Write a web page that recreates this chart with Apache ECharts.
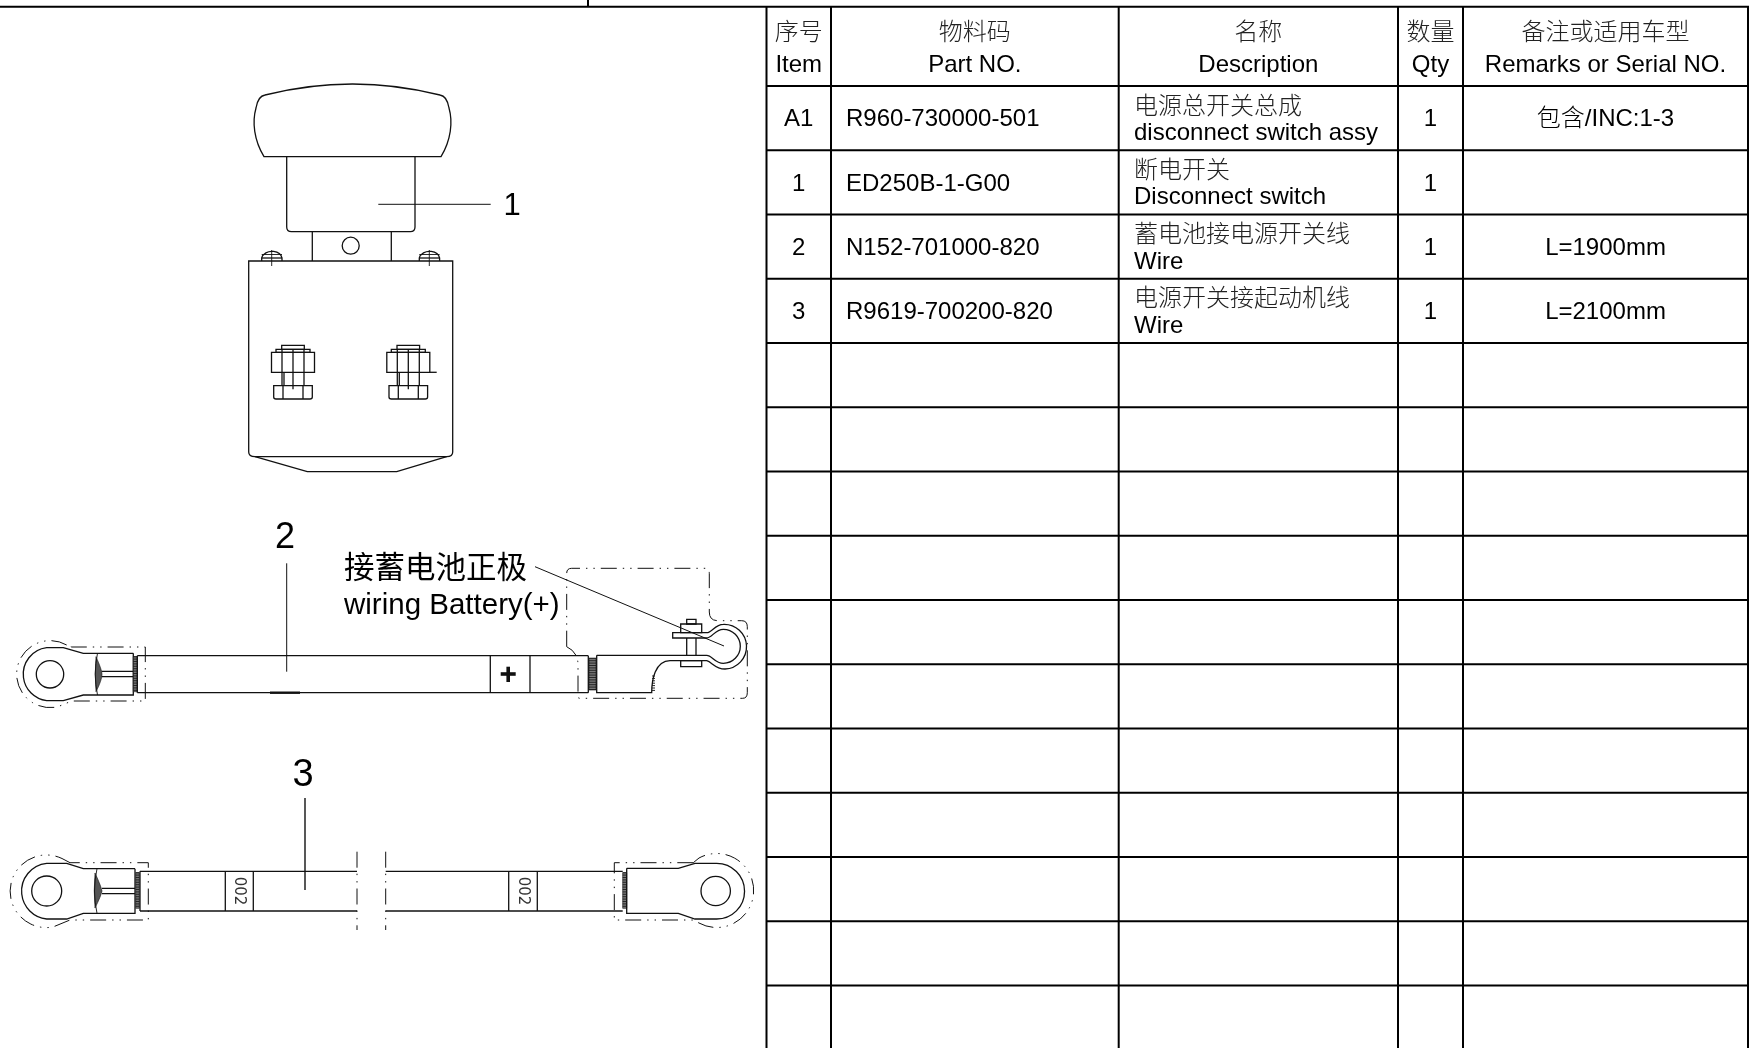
<!DOCTYPE html>
<html>
<head>
<meta charset="utf-8">
<title>电源总开关总成</title>
<style>
  html, body { margin: 0; padding: 0; background: #fff; }
  #main { width: 1749px; height: 1048px; }
</style>
<script src="https://cdn.jsdelivr.net/npm/echarts@6/dist/echarts.min.js"></script>
</head>
<body>
<div id="main"></div>
<script>
// table content
var headZh = ['序号', '物料码', '名称', '数量', '备注或适用车型'];
var headEn = ['Item', 'Part NO.', 'Description', 'Qty', 'Remarks or Serial NO.'];
var items = ['A1', '1', '2', '3'];
var partNos = ['R960-730000-501', 'ED250B-1-G00', 'N152-701000-820', 'R9619-700200-820'];
var namesZh = ['电源总开关总成', '断电开关', '蓄电池接电源开关线', '电源开关接起动机线'];
var namesEn = ['disconnect switch assy', 'Disconnect switch', 'Wire', 'Wire'];
var qtys = ['1', '1', '1', '1'];
var remarks = ['包含/INC:1-3', '', 'L=1900mm', 'L=2100mm'];
var blankRows = 11;

// callouts on the drawing
var balloons = ['1', '2', '3'];
var batteryZh = '接蓄电池正极';
var batteryEn = 'wiring Battery(+)';
var wireTag = '002';

// layout, in page pixels (the axes below map 1:1 to the page)
var colEdges = [766.5, 831, 1118.7, 1398, 1463, 1748];
var topY = 6.7, headY = 86, rowH = 64.25;
var rowCount = items.length + blankRows;
var FONT = '"Liberation Sans", "Noto Sans CJK SC", sans-serif';
var INK = '#111';

// ---- table ruling ----
var rules = [[0, topY, 1749, topY], [588, 0, 588, topY]];
colEdges.forEach(function (x) { rules.push([x, topY, x, 1048]); });
for (var r = 0; r < rowCount; r++) {
  rules.push([colEdges[0], headY + r * rowH, colEdges[5], headY + r * rowH]);
}

// ---- table text ----
var labels = [];
function label(text, x, y, size, align, color, weight) {
  if (text) labels.push({ text: text, x: x, y: y, size: size, align: align || 'center', color: color || '#000', weight: weight || 'normal' });
}
function colMid(i) { return (colEdges[i] + colEdges[i + 1]) / 2; }
headZh.forEach(function (t, i) {
  label(t, colMid(i), 33, 24, 'center', '#222', 300);
  label(headEn[i], colMid(i), 65.5, 24);
});
items.forEach(function (t, i) {
  var top = headY + i * rowH, mid = top + rowH / 2 + 1.5;
  label(t, colMid(0), mid, 24);
  label(partNos[i], 846, mid, 24, 'left');
  label(namesZh[i], 1134, top + 21, 24, 'left', '#222', 300);
  label(namesEn[i], 1134, top + 47.5, 24, 'left');
  label(qtys[i], colMid(3), mid, 24);
  label(remarks[i], colMid(4), mid, 24, 'center', '#000', 300);
});
label(balloons[0], 512, 206, 31);
label(balloons[1], 285, 538, 36);
label(balloons[2], 303, 776, 38);
label(batteryZh, 344, 570, 30.5, 'left');
label(batteryEn, 344, 606, 29.5, 'left');

// ---- drawing outlines ----
var drawing = [];
var PHANTOM = [16, 6, 1.4, 6, 1.4, 6];
function stroke(d, w, dash) { drawing.push({ d: d, w: w || 1.3, dash: dash || null, fill: 'none' }); }
function solid(d, fill) { drawing.push({ d: d, w: 0.6, dash: null, fill: fill || '#555' }); }
function seg(x1, y1, x2, y2, w, dash) { stroke('M' + x1 + ' ' + y1 + 'L' + x2 + ' ' + y2, w, dash); }
function box(x1, y1, x2, y2, w) { stroke('M' + x1 + ' ' + y1 + 'H' + x2 + 'V' + y2 + 'H' + x1 + 'Z', w); }
function circle(cx, cy, r, w) {
  stroke('M' + (cx - r) + ' ' + cy + 'A' + r + ' ' + r + ' 0 1 1 ' + (cx + r) + ' ' + cy + 'A' + r + ' ' + r + ' 0 1 1 ' + (cx - r) + ' ' + cy, w);
}
function knurl(x1, y1, x2, y2) {
  solid('M' + x1 + ' ' + y1 + 'H' + x2 + 'V' + y2 + 'H' + x1 + 'Z', '#777');
  for (var y = y1; y <= y2; y += 2.4) seg(x1, y, x2, y, 0.8);
}

// switch: knob, barrel, neck, body
stroke('M265 95Q352.5 73 440 95Q447 96 449 108C453 122 451 140 441 156.7H264C254 140 252 122 256 108Q258 96 265 95Z');
stroke('M286.7 156.7V227Q286.7 231.7 291.4 231.7H410.3Q415 231.7 415 227V156.7');
seg(312.3, 231.7, 312.3, 261); seg(391.3, 231.7, 391.3, 261);
circle(350.7, 245.7, 8.5);
stroke('M248.7 261H452.7V452Q452.7 456.7 446.7 456.7H255Q248.7 456.7 248.7 452Z');
stroke('M255 456.7L307.3 471.7H396.7L446.7 456.7');
seg(378.3, 204.3, 490.7, 204.3, 1);

// screws on the top face
[271.7, 429.3].forEach(function (cx) {
  stroke('M' + (cx - 10) + ' 261V258A10.3 8 0 0 1 ' + (cx + 10.3) + ' 258V261');
  seg(cx - 10, 258, cx + 10.3, 258);
  seg(cx - 10, 254.5, cx + 10.3, 254.5, 0.9);
  seg(cx, 250, cx, 266, 0.9);
});

// terminal bolts
[0, 115.3].forEach(function (dx) {
  var c = 293 + dx;
  box(c - 11.3, 345.3, c + 11.3, 349.3);
  box(c - 17, 349.3, c + 17, 352.3);
  box(c - 21.5, 352.3, c + 21.5, 372.3);
  seg(c - 11, 349.3, c - 11, 385.7); seg(c + 11, 349.3, c + 11, 385.7);
  seg(c - 9, 372.3, c - 9, 385.7); seg(c, 349.3, c, 389.3);
  stroke('M' + (c - 19.3) + ' 385.7H' + (c + 19.3) + 'V397Q' + (c + 19.3) + ' 399 ' + (c + 17) + ' 399H' + (c - 17) + 'Q' + (c - 19.3) + ' 399 ' + (c - 19.3) + ' 397Z');
  seg(c - 10, 385.7, c - 10, 399); seg(c + 10, 385.7, c + 10, 399);
});
seg(430, 372.3, 436.7, 372.3);

// wire 2, left lug
circle(50, 674.3, 13.7);
stroke('M133.3 653.3H83.3L63.3 647.7H46.7A26.7 26.7 0 0 0 46.7 700.7H63.3L83.3 695H133.3V653.3');
solid('M96 656.7Q102 670 102 674.3Q102 680 96 691.7Q94.5 674 96 656.7Z');
stroke('M97.5 653.3Q93 674 97.5 695', 0.9);
seg(101.7, 671.3, 133.3, 671.3); seg(101.7, 676.7, 133.3, 676.7);
knurl(133.3, 656.7, 137.3, 691.7);
stroke('M66.7 645A33.5 33.5 0 1 0 58 706.7L71.7 701H145.3V647H71.7L66.7 645', 1, PHANTOM);

// wire 2, sleeve
seg(137.3, 655.7, 137.3, 692.7);
seg(137.3, 655.7, 588.3, 655.7); seg(137.3, 692.7, 588.3, 692.7);
seg(588.3, 655.7, 588.3, 692.7);
seg(490.3, 655.7, 490.3, 692.7); seg(530, 655.7, 530, 692.7);
seg(500.7, 674, 515.7, 674, 3.6); seg(508.2, 666.7, 508.2, 682, 3.6);
seg(286.7, 563.3, 286.7, 671.7, 1);
seg(270, 692.7, 300, 692.7, 2.4);

// wire 2, right lug with stud
knurl(589, 658.3, 596, 690);
stroke('M596.7 655.3V692.7H651.7C651.7 680 655 661 670 660.7H706.7C712 662 715 669 725 669A22 22 0 0 0 723.3 624.3C715 624.3 712 632.7 706.7 632.7H672.7V638H706.7C712 638 715 629.3 723.3 629.3A17 17 0 0 1 723.3 663.3C715 663.3 712 655.3 706.7 655.3H596.7');
box(680.7, 660.7, 701.7, 666.7);
box(680.7, 624, 701.7, 632.7);
box(686.7, 619.3, 696, 624);
seg(686.7, 638, 686.7, 655.3); seg(696, 638, 696, 655.3);
for (var h = 676; h < 692; h += 2.4) seg(652, h, 655, h, 0.9);
stroke('M566.7 646.7V573.3Q566.7 568.3 571.7 568.3H705Q709.3 568.3 709.3 573.3V612Q709.3 620.7 718 620.7H741.7Q747.3 620.7 747.3 626.7V692.7Q747.3 698.3 742.7 698.3H580Q578 698.3 578 696.7V665Q578 652 566.7 646.7', 1, PHANTOM);
seg(535, 566.7, 724, 646, 1);

// wire 3, left lug
circle(46.7, 891, 15);
stroke('M135 868.7H83.3L66.7 863.3H46.7A28 28 0 0 0 46.7 919H66.7L83.3 913.3H135V868.7');
solid('M95 873Q101 886 102 891Q101 896 95 908Q93.5 891 95 873Z');
stroke('M97 868.7Q92 891 97 913.3', 0.9);
seg(102, 888.3, 135, 888.3); seg(102, 893.7, 135, 893.7);
knurl(135.7, 872.7, 139.3, 908.3);
stroke('M70 862.7L62 858.5A36.3 36.3 0 1 0 53 927L70 920H148.3V862.7H70', 1, PHANTOM);

// wire 3, sleeve with break and tags
seg(140, 871.3, 140, 911);
seg(140, 871.3, 357, 871.3); seg(140, 911, 357, 911);
seg(385.7, 871.3, 622.7, 871.3); seg(385.7, 911, 622.7, 911);
seg(225.3, 871.3, 225.3, 911); seg(253.3, 871.3, 253.3, 911);
seg(508.7, 871.3, 508.7, 911); seg(537.3, 871.3, 537.3, 911);
seg(357, 851.7, 357, 930, 1, PHANTOM); seg(385.7, 851.7, 385.7, 930, 1, PHANTOM);
seg(305, 798, 305, 890, 1.4);

// wire 3, right lug
knurl(622.7, 872.7, 626.7, 908.3);
circle(715.7, 891, 14.7);
stroke('M626.7 868.3H678.3L695 863.3H716.7A27.7 27.7 0 0 1 716.7 919H695L678.3 913.3H626.7V868.3');
stroke('M693.3 862.7H614.3V920H693.3L699 923A37 37 0 1 0 699 858L693.3 862.7', 1, PHANTOM);

var tagSpots = [[239.3, 891], [523, 891]];

var chart = echarts.init(document.getElementById('main'));
chart.setOption({
  animation: false,
  backgroundColor: '#fff',
  grid: { left: 0, right: 0, top: 0, bottom: 0 },
  xAxis: { type: 'value', min: 0, max: 1749, show: false },
  yAxis: { type: 'value', min: 0, max: 1048, inverse: true, show: false },
  series: [
    {
      type: 'custom', silent: true, clip: false,
      data: rules,
      renderItem: function (params, api) {
        var a = api.coord([api.value(0), api.value(1)]);
        var b = api.coord([api.value(2), api.value(3)]);
        return {
          type: 'line',
          shape: { x1: a[0], y1: a[1], x2: b[0], y2: b[1] },
          style: { stroke: '#000', lineWidth: 2 }
        };
      }
    },
    {
      type: 'custom', silent: true, clip: false,
      data: drawing.map(function (_, i) { return [i, i]; }),
      renderItem: function (params, api) {
        var o = api.coord([0, 0]), p = drawing[params.dataIndex];
        return {
          type: 'path', x: o[0], y: o[1],
          shape: { pathData: p.d },
          style: { stroke: INK, fill: p.fill, lineWidth: p.w, lineDash: p.dash }
        };
      }
    },
    {
      type: 'custom', silent: true, clip: false,
      data: labels.map(function (l) { return [l.x, l.y]; }),
      renderItem: function (params, api) {
        var l = labels[params.dataIndex], c = api.coord([api.value(0), api.value(1)]);
        return {
          type: 'text',
          style: {
            text: l.text, x: c[0], y: c[1], fill: l.color,
            font: l.weight + ' ' + l.size + 'px ' + FONT,
            align: l.align, verticalAlign: 'middle'
          }
        };
      }
    },
    {
      type: 'custom', silent: true, clip: false,
      data: tagSpots,
      renderItem: function (params, api) {
        var c = api.coord([api.value(0), api.value(1)]);
        return {
          type: 'text', x: c[0], y: c[1], rotation: -Math.PI / 2,
          style: {
            text: wireTag, x: 0, y: 0, fill: '#333',
            font: '15px "DejaVu Sans", ' + FONT,
            align: 'center', verticalAlign: 'middle'
          }
        };
      }
    }
  ]
});
</script>
</body>
</html>
